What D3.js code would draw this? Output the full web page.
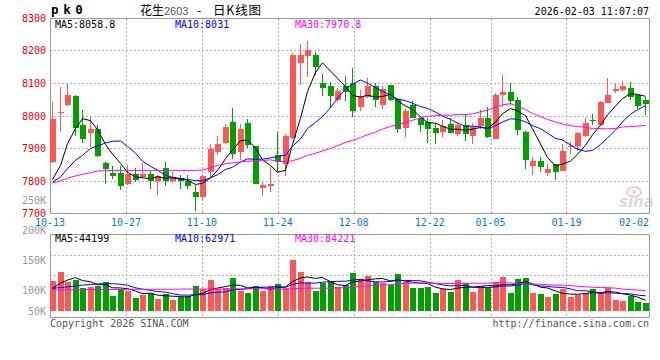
<!DOCTYPE html>
<html><head><meta charset="utf-8">
<script src="https://cdn.jsdelivr.net/npm/d3@7"></script>
<style>body{margin:0;background:#fff}svg{display:block}</style>
</head><body><svg id="c" width="660" height="360"></svg>
<script>
const dates = ['10-13','10-14','10-15','10-16','10-17','10-20','10-21','10-22','10-23','10-24',
 '10-27','10-28','10-29','10-30','10-31','11-03','11-04','11-05','11-06','11-07',
 '11-10','11-11','11-12','11-13','11-14','11-17','11-18','11-19','11-20','11-21',
 '11-24','11-25','11-26','11-27','11-28','12-01','12-02','12-03','12-04','12-05',
 '12-08','12-09','12-10','12-11','12-12','12-15','12-16','12-17','12-18','12-19',
 '12-22','12-23','12-24','12-25','12-26','12-29','12-30','12-31','01-05','01-06',
 '01-07','01-08','01-09','01-12','01-13','01-14','01-15','01-16','01-19','01-20',
 '01-21','01-22','01-23','01-26','01-27','01-28','01-29','01-30','02-02','02-03'];
const open = [7858,8008,8032,8060,7971,7947,7958,7856,7824,7824,
 7789,7822,7812,7820,7798,7839,7798,7809,7801,7766,
 7750,7827,7888,7916,7981,7888,7978,7906,7778,7784,
 7878,7853,7930,8161,8181,8186,8099,8089,8047,8089,
 8100,8027,8058,8089,8032,8092,8050,7962,8032,7993,
 7981,7962,7948,7974,7943,7971,7938,7967,7991,7928,
 8063,8073,8047,7950,7845,7861,7825,7852,7830,7904,
 7907,7938,7987,7970,8039,8075,8078,8085,8063,8047];
const high = [8040,8088,8097,8062,8017,7996,7971,7858,7845,7845,
 7848,7839,7855,7829,7817,7858,7827,7819,7819,7786,
 7822,7912,7938,7973,8022,7973,7989,7908,7796,7842,
 7948,7942,8190,8220,8229,8193,8126,8104,8085,8121,
 8146,8078,8116,8099,8089,8093,8053,8019,8044,7996,
 7993,7976,7986,7991,7976,8006,7976,8017,8025,8068,
 8125,8099,8058,7952,7873,7873,7852,7853,7914,7919,
 7950,7991,8006,8044,8116,8099,8106,8104,8064,8058];
const low = [7855,7948,8028,7938,7916,7904,7873,7789,7807,7771,
 7786,7796,7809,7776,7757,7784,7793,7776,7776,7709,
 7737,7811,7878,7914,7868,7863,7901,7789,7755,7765,
 7827,7815,7928,8094,8119,8124,8060,8022,8040,8044,
 7994,8014,8053,8027,8020,8045,7947,7935,7991,7950,
 7916,7912,7935,7945,7938,7921,7912,7960,7932,7927,
 8027,8032,7940,7835,7819,7827,7815,7804,7829,7883,
 7891,7935,7970,7969,8038,8068,8071,8047,8020,8001];
const close = [7989,8011,8063,7962,7927,7958,7875,7836,7814,7784,
 7822,7804,7822,7801,7814,7798,7812,7801,7784,7750,
 7815,7897,7912,7965,7881,7958,7909,7789,7786,7791,
 7858,7937,8186,8186,8199,8150,8085,8061,8075,8071,
 8015,8060,8089,8047,8081,8047,7958,8014,7993,7970,
 7958,7947,7967,7947,7971,7942,7965,7991,7935,8063,
 8073,8044,7955,7863,7861,7842,7835,7827,7891,7907,
 7945,7976,7985,8040,8063,8081,8091,8058,8030,8034];
const volume = [123000,161000,120000,127000,93000,97000,103000,120000,63000,89000,
 83000,55000,66000,73000,49000,70000,45000,59000,62000,103000,
 89000,127000,89000,93000,134000,82000,75000,103000,83000,103000,
 111000,96000,209000,161000,120000,83000,114000,123000,97000,107000,
 157000,131000,145000,120000,114000,107000,152000,120000,96000,96000,
 100000,75000,89000,79000,127000,116000,79000,103000,97000,120000,
 141000,75000,131000,137000,75000,70000,59000,70000,89000,59000,
 66000,75000,89000,79000,96000,47000,43000,60000,38000,33000];
// moving-average values before a full window exists
const ma5Head = [7804,7847,7914,7960];
const ma10Head = [7796,7812,7837,7863,7878,7899,7907,7916,7921];
const ma30Head = [7793,7800,7808,7815,7820,7825,7830,7831,7832,7832,7832,7832,7832,7832,7832,7832,7832,7832,7832,7832,7833,7840,7847,7852,7855,7858,7860,7861,7862];
const volMa5Head = [93000,114000,127000,137000];
const volMa10Head = [93000,96000,99000,103000,106000,109000,111000,112000,112000];
const volMa30Head = [86000,86000,87000,87000,87000,88000,88000,88000,88000,88000,89000,89000,89000,89000,89000,89000,89000,90000,90000,90000,90000,90000,90000,90000,91000,91000,91000,91000,91000];
const priceTicks = [8300,8200,8100,8000,7900,7800,7700];
const volTicks = [250000,200000,150000,100000,50000];
const volTickLabels = ['250K','200K','150K','100K','50K'];
const dateTicks = ['10-13','10-27','11-10','11-24','12-08','12-22','01-05','01-19','02-02'];
const priceLegend = ['MA5:8058.8','MA10:8031','MA30:7970.8'];
const volLegend = ['MA5:44199','MA10:62971','MA30:84221'];

const svg = d3.select('#c');
const mono = '"DejaVu Sans Mono", monospace';
const L = 50, R = 649;
const UP = '#ff5656', DOWN = '#00a000', GRID = '#b4b4b4', FRAME = '#9a9a9a';
const maColors = ['#000000','#0000ff','#ff00ff'];
const N = dates.length;
const idx = d3.range(N);

const xBand = d3.scaleBand().domain(idx).range([L, L + 7.5 * N]);
const xTick = d3.scalePoint().domain(idx).range([L, 650]);
const y = d3.scaleLinear().domain([7700, 8300]).range([213.5, 17.5]);
const yv = d3.scaleLinear().domain([0, 315700]).range([311, 234]);
const yvLab = d3.scaleLinear().domain([100000, 250000]).range([290.7, 200]);

function ma(arr, n, head) {
  return arr.map((v, i) => i < n - 1 ? head[i] : d3.mean(arr.slice(i - n + 1, i + 1)));
}
const cx = i => Math.round(xBand(i)) + 3;

// ---------- main panel grid ----------
const gMain = svg.append('g');
priceTicks.slice(1, -1).forEach(p => {
  gMain.append('line').attr('x1', L).attr('x2', R).attr('y1', Math.round(y(p)) + 0.5).attr('y2', Math.round(y(p)) + 0.5)
    .attr('stroke', GRID).attr('stroke-dasharray', '2,2');
});
const tickIdx = dateTicks.map(d => dates.indexOf(d));
tickIdx.forEach(i => {
  const x = Math.round(xTick(i)) + 0.5;
  if (i === 0 || x > R - 10) return;
  [[19, 213], [234, 317]].forEach(([a, b]) => {
    svg.append('line').attr('x1', x).attr('x2', x).attr('y1', a).attr('y2', b)
      .attr('stroke', GRID).attr('stroke-dasharray', '2,2');
  });
});
// volume grid
[255.5, 275.5].forEach(v => {
  svg.append('line').attr('x1', L).attr('x2', R).attr('y1', v).attr('y2', v)
    .attr('stroke', GRID).attr('stroke-dasharray', '2,2');
});

// frames
svg.append('path').attr('d', `M${L + 0.5},18.5H${R + 0.5}V213.5H${L + 0.5}Z`).attr('fill', 'none').attr('stroke', FRAME);
svg.append('path').attr('d', `M${L + 0.5},234.5H${R + 0.5}V317.5H${L + 0.5}Z`).attr('fill', 'none').attr('stroke', FRAME);

// watermark
const wm = svg.append('g').attr('opacity', 0.55);
wm.append('ellipse').attr('cx', 634).attr('cy', 192).attr('rx', 7).attr('ry', 5).attr('fill', 'none').attr('stroke', '#f2a0a0').attr('stroke-width', 2);
wm.append('circle').attr('cx', 634).attr('cy', 192).attr('r', 2).attr('fill', '#f2a0a0');
wm.append('text').attr('x', 619).attr('y', 207).attr('font-family', 'Verdana, "DejaVu Sans", sans-serif')
  .attr('font-size', 15).attr('font-weight', 'bold').attr('font-style', 'italic').attr('fill', '#bdbdbd').text('sina');

// ---------- candles ----------
const gC = svg.append('g');
idx.forEach(i => {
  const up = close[i] >= open[i];
  const col = up ? UP : DOWN;
  const x = Math.round(xBand(i));
  const yh = Math.round(y(high[i])), yl = Math.round(y(low[i]));
  gC.append('rect').attr('x', x + 2).attr('y', yh).attr('width', 1).attr('height', Math.max(1, yl - yh)).attr('fill', col);
  const yt = Math.round(y(Math.max(open[i], close[i]))), yb = Math.round(y(Math.min(open[i], close[i])));
  gC.append('rect').attr('x', x).attr('y', yt).attr('width', 6).attr('height', Math.max(1, yb - yt)).attr('fill', col);
});

const line = d3.line().x((d, i) => cx(i) - 0.5).y(d => y(d));
[[5, ma5Head], [10, ma10Head], [30, ma30Head]].forEach(([n, h], k) => {
  svg.append('path').attr('d', line(ma(close, n, h))).attr('fill', 'none').attr('stroke', maColors[k]).attr('stroke-width', 1);
});

// ---------- volume ----------
idx.forEach(i => {
  const up = close[i] >= open[i];
  const x = Math.round(xBand(i));
  const t = Math.round(yv(volume[i]));
  svg.append('rect').attr('x', x).attr('y', t).attr('width', 6).attr('height', 311 - t).attr('fill', up ? UP : DOWN);
});
const vline = d3.line().x((d, i) => cx(i) - 0.5).y(d => yv(d));
[[5, volMa5Head], [10, volMa10Head], [30, volMa30Head]].forEach(([n, h], k) => {
  svg.append('path').attr('d', vline(ma(volume, n, h))).attr('fill', 'none').attr('stroke', maColors[k]).attr('stroke-width', 1);
});

// ---------- text ----------
const T = (x, yy, s, col, size, anchor, fam) => svg.append('text').attr('x', x).attr('y', yy)
  .attr('font-family', fam || mono).attr('font-size', size || 10).attr('fill', col || '#000')
  .attr('text-anchor', anchor || 'start').text(s);

priceTicks.forEach((p, k) => T(46, Math.round(y(p)) + (k === priceTicks.length - 1 ? 2.5 : 3.5), String(p), '#ee0000', 10, 'end'));
volTicks.forEach((v, k) => T(46, Math.min(311, yvLab(v)) + 3.5, volTickLabels[k], '#999999', 10, 'end'));

tickIdx.forEach((i, k) => {
  let x = xTick(i);
  let anchor = 'middle';
  if (x + 15 > R) { x = R; anchor = 'end'; }
  T(x, 225.5, dateTicks[k], '#0a78d8', 10, anchor);
});

[55, 175, 295].forEach((x, k) => {
  T(x, 27.5, priceLegend[k], maColors[k], 10);
  T(x, 241.5, volLegend[k], maColors[k], 10);
});

T(51, 14, 'pk0', '#000', 12.5, 'start').attr('font-weight', 'bold').attr('letter-spacing', 4.6);
const cjk = '"Noto Sans CJK SC", sans-serif';
T(140, 15, '花生', '#000', 12, 'start', cjk);
T(164, 15, '2603', '#555', 11, 'start', '"Liberation Sans", sans-serif');
T(197, 15, '-', '#000', 12, 'start', cjk);
T(213, 15, '日K线图', '#000', 12.5, 'start', cjk).attr('textLength', 48);
T(649, 15, '2026-02-03 11:07:07', '#000', 10, 'end');
T(50, 327, 'Copyright 2026 SINA.COM', '#555', 10, 'start');
T(649, 327, 'http://finance.sina.com.cn', '#555', 10, 'end');
</script></body></html>
